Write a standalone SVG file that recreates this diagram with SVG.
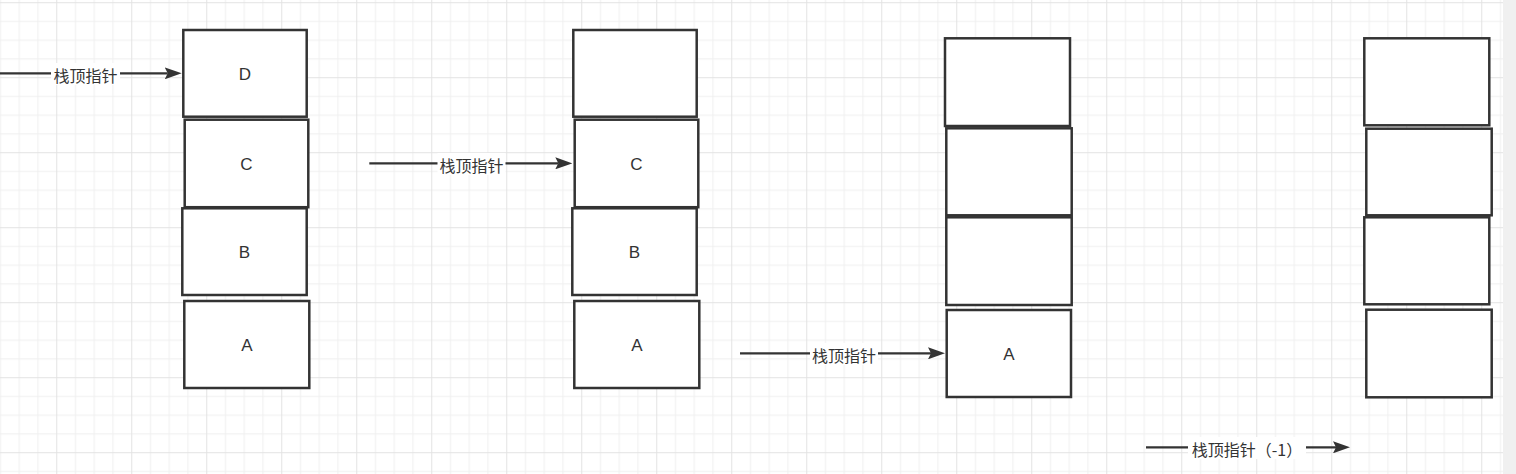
<svg xmlns="http://www.w3.org/2000/svg" width="1516" height="474" viewBox="0 0 1516 474">
<defs>
<pattern id="grid" patternUnits="userSpaceOnUse" x="-18.75" y="2.2" width="75" height="75">
<rect width="75" height="75" fill="#ffffff"/>
<g fill="#f0f0f0">
<rect x="18.75" y="0" width="1" height="75"/>
<rect x="37.5" y="0" width="1" height="75"/>
<rect x="56.25" y="0" width="1" height="75"/>
<rect x="0" y="18.75" width="75" height="1"/>
<rect x="0" y="37.5" width="75" height="1"/>
<rect x="0" y="56.25" width="75" height="1"/>
</g>
<g fill="#e3e3e3">
<rect x="0" y="0" width="1" height="75"/>
<rect x="0" y="0" width="75" height="1"/>
</g>
</pattern>
<marker id="arrow" markerUnits="userSpaceOnUse" markerWidth="17" markerHeight="12" viewBox="0 0 17 12" refX="3" refY="6" orient="auto">
<path d="M0,0 L17,6 L0,12 L3,6 Z" fill="#333333"/>
</marker>
<style>
.box{fill:#ffffff;stroke:#333333;stroke-width:2.5}
.txt{font-family:"Liberation Sans","Noto Sans CJK SC",sans-serif;font-size:17px;fill:#333333;text-anchor:middle}
.lbl{font-family:"Noto Sans CJK SC","Liberation Sans",sans-serif;font-size:16px;fill:#333333;text-anchor:middle}
.lblbg{fill:#ffffff}
.edge{stroke:#333333;stroke-width:2.2;fill:none;marker-end:url(#arrow)}
</style>
</defs>
<rect x="0" y="0" width="1516" height="474" fill="url(#grid)"/>
<rect x="1503" y="0" width="13" height="474" fill="#f0f0f0"/>

<g id="stack1">
<g id="s1-D"><rect class="box" x="183.3" y="30" width="123.4" height="86.7"/><text class="txt" x="245" y="79.6">D</text></g>
<g id="s1-C"><rect class="box" x="184.7" y="119.7" width="123.6" height="87.5"/><text class="txt" x="246.5" y="169.7">C</text></g>
<g id="s1-B"><rect class="box" x="182.3" y="208.3" width="124.4" height="86.7"/><text class="txt" x="244.5" y="258">B</text></g>
<g id="s1-A"><rect class="box" x="184.3" y="301" width="125" height="87"/><text class="txt" x="246.8" y="350.8">A</text></g>
</g>

<g id="stack2">
<g id="s2-top"><rect class="box" x="573.3" y="30" width="123.4" height="86.7"/></g>
<g id="s2-C"><rect class="box" x="574.7" y="119.7" width="123.6" height="87.5"/><text class="txt" x="636.5" y="169.7">C</text></g>
<g id="s2-B"><rect class="box" x="572.3" y="208.3" width="124.4" height="86.7"/><text class="txt" x="634.5" y="258">B</text></g>
<g id="s2-A"><rect class="box" x="574.3" y="301" width="125" height="87"/><text class="txt" x="636.8" y="350.8">A</text></g>
</g>

<g id="stack3">
<g id="s3-1"><rect class="box" x="945" y="38.3" width="125" height="87.7"/></g>
<g id="s3-2"><rect class="box" x="946.3" y="128.3" width="125.4" height="87"/></g>
<g id="s3-3"><rect class="box" x="946.3" y="217.3" width="125.4" height="87.7"/></g>
<g id="s3-A"><rect class="box" x="946.7" y="310" width="124.3" height="87"/><text class="txt" x="1008.8" y="359.8">A</text></g>
</g>

<g id="stack4">
<g id="s4-1"><rect class="box" x="1364.3" y="38.3" width="125" height="87"/></g>
<g id="s4-2"><rect class="box" x="1366.3" y="128.7" width="125.4" height="86.6"/></g>
<g id="s4-3"><rect class="box" x="1364.3" y="217.3" width="125" height="87"/></g>
<g id="s4-4"><rect class="box" x="1366.3" y="309.7" width="125.4" height="87.6"/></g>
</g>

<g id="connectors">
<g id="edge1">
<path class="edge" d="M0,73.3 H167.7"/>
<rect class="lblbg" x="51" y="63" width="69" height="22"/>
<text class="lbl" x="85.5" y="81.8">栈顶指针</text>
</g>
<g id="edge2">
<path class="edge" d="M369.3,163.3 H558.3"/>
<rect class="lblbg" x="437.5" y="153" width="68" height="22"/>
<text class="lbl" x="471.5" y="171.8">栈顶指针</text>
</g>
<g id="edge3">
<path class="edge" d="M740,353.3 H931"/>
<rect class="lblbg" x="810" y="343" width="68" height="22"/>
<text class="lbl" x="844" y="361.8">栈顶指针</text>
</g>
<g id="edge4">
<path class="edge" d="M1146,447.3 H1336"/>
<rect class="lblbg" x="1188" y="437" width="118" height="22"/>
<text class="lbl" x="1247" y="455.8">栈顶指针（-1）</text>
</g>
</g>
</svg>
